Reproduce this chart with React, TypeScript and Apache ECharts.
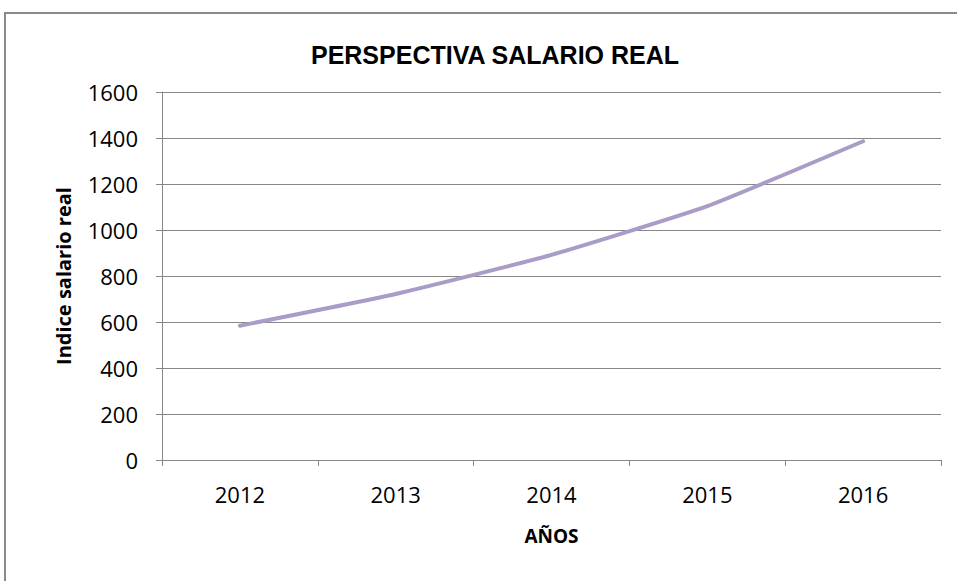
import React, { useEffect, useRef } from "react";
import * as echarts from "echarts";

const chartTitle = "PERSPECTIVA SALARIO REAL";
const xAxisName = "AÑOS";
const yAxisName = "Indice salario real";
const years = ["2012", "2013", "2014", "2015", "2016"];
const salarioReal = [584, 722, 892, 1104, 1386];
const yMin = 0;
const yMax = 1600;
const yStep = 200;

export default function App() {
  const ref = useRef<HTMLDivElement>(null);
  useEffect(() => {
    if (!ref.current) return;
    const chart = echarts.init(ref.current, null, { renderer: "svg" });
    const gray = "#878787";
    const labelFont = "'Open Sans', 'DejaVu Sans', sans-serif";
    chart.setOption({
      animation: false,
      backgroundColor: "#ffffff",
      title: {
        text: chartTitle,
        left: 490,
        textAlign: "center",
        top: 37,
        textStyle: {
          fontFamily: "'Liberation Sans', Arial, sans-serif",
          fontWeight: "bold",
          fontSize: 25,
          color: "#000",
        },
      },
      graphic: [
        {
          type: "rect",
          shape: { x: 5, y: 13, width: 1000, height: 700 },
          style: { fill: "none", stroke: "#8a8a8a", lineWidth: 2 },
          silent: true,
        },
      ],
      grid: { left: 162, top: 92, right: 16, bottom: 121, containLabel: false },
      xAxis: {
        type: "category",
        data: years,
        boundaryGap: true,
        name: xAxisName,
        nameLocation: "middle",
        nameGap: 66,
        nameTextStyle: {
          fontFamily: labelFont,
          fontWeight: "bold",
          fontSize: 19,
          color: "#000",
        },
        axisLine: { show: true, lineStyle: { color: gray, width: 1 } },
        axisTick: { show: true, alignWithLabel: false, length: 6, lineStyle: { color: gray } },
        axisLabel: {
          margin: 23,
          fontFamily: labelFont,
          fontSize: 22,
          color: "#000",
        },
        splitLine: { show: false },
      },
      yAxis: {
        type: "value",
        min: yMin,
        max: yMax,
        interval: yStep,
        name: yAxisName,
        nameLocation: "middle",
        nameRotate: 90,
        nameGap: 89,
        nameTextStyle: {
          fontFamily: labelFont,
          fontWeight: "bold",
          fontSize: 20,
          color: "#000",
        },
        axisLine: { show: true, lineStyle: { color: gray, width: 1 } },
        axisTick: { show: true, length: 6, lineStyle: { color: gray } },
        axisLabel: {
          margin: 24,
          fontFamily: labelFont,
          fontSize: 22,
          color: "#000",
          formatter: (v: number) => String(v),
        },
        splitLine: { show: true, lineStyle: { color: gray, width: 1 } },
      },
      series: [
        {
          type: "line",
          data: salarioReal,
          smooth: 0.15,
          showSymbol: false,
          symbol: "none",
          lineStyle: { color: "#A99CC6", width: 4, cap: "round" },
        },
      ],
    });
    return () => chart.dispose();
  }, []);
  return (
    <div
      ref={ref}
      style={{ position: "absolute", left: 0, top: 0, width: 957, height: 581 }}
    />
  );
}
